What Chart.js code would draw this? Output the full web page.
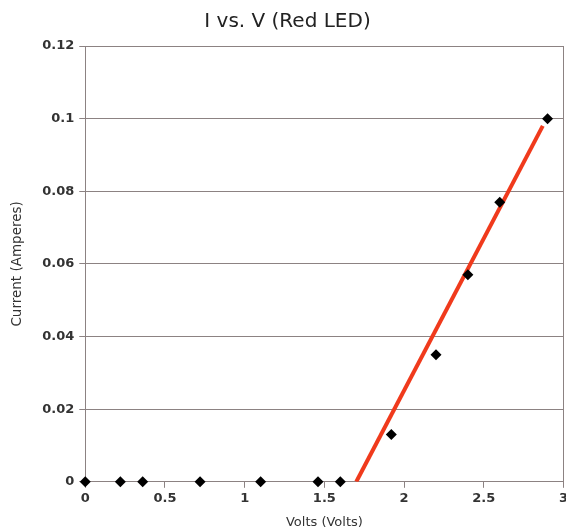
<!DOCTYPE html>
<html>
<head>
<meta charset="utf-8">
<script src="https://cdn.jsdelivr.net/npm/chart.js@4/dist/chart.umd.min.js"></script>
<style>
html,body{margin:0;padding:0;background:#fff;overflow:hidden;}
#wrap{width:569px;height:531px;}
</style>
</head>
<body>
<div id="wrap"><canvas id="c" width="569" height="531"></canvas></div>
<script>
const voltage = [0, 0.22, 0.36, 0.72, 1.1, 1.46, 1.6, 1.92, 2.2, 2.4, 2.6, 2.9];
const current = [0, 0, 0, 0, 0, 0, 0, 0.013, 0.035, 0.057, 0.077, 0.1];
const fitVoltage = [1.70, 2.87];
const fitCurrent = [0, 0.098];
const xTickLabels = ['0', '0.5', '1', '1.5', '2', '2.5', '3'];
const yTickLabels = ['0', '0.02', '0.04', '0.06', '0.08', '0.1', '0.12'];

const FAM = "'DejaVu Sans', Verdana, sans-serif";
const gridColor = '#8c8282';
const tickFont = {family: FAM, size: 13, weight: 'bold'};

// draws the right-hand frame edge of the plot area
const frameRight = {
  id: 'frameRight',
  beforeDatasetsDraw(chart) {
    const {ctx, chartArea} = chart;
    ctx.save();
    ctx.strokeStyle = gridColor;
    ctx.lineWidth = 1;
    ctx.beginPath();
    const x = Math.round(chartArea.right) - 0.5;
    ctx.moveTo(x, chartArea.top);
    ctx.lineTo(x, chartArea.bottom);
    ctx.stroke();
    ctx.restore();
  }
};

new Chart(document.getElementById('c'), {
  type: 'scatter',
  plugins: [frameRight],
  data: {
    datasets: [
      {
        label: 'Measured',
        data: voltage.map((v, i) => ({x: v, y: current[i]})),
        pointStyle: 'rectRot',
        pointRadius: 5.5,
        backgroundColor: '#000',
        borderColor: '#000',
        borderWidth: 0,
        clip: false,
        order: 0
      },
      {
        label: 'Fit',
        data: fitVoltage.map((v, i) => ({x: v, y: fitCurrent[i]})),
        showLine: true,
        borderColor: '#f03a1c',
        borderWidth: 4,
        pointRadius: 0,
        order: 1
      }
    ]
  },
  options: {
    responsive: false,
    animation: false,
    devicePixelRatio: 1,
    layout: {padding: {left: 9, right: 3, top: 0, bottom: 0}},
    plugins: {
      legend: {display: false},
      tooltip: {enabled: false},
      title: {
        display: true,
        text: 'I vs. V (Red LED)',
        color: '#222',
        font: {family: FAM, size: 20, weight: 'normal'},
        padding: {top: 10, bottom: 12}
      }
    },
    scales: {
      x: {
        type: 'linear',
        min: 0, max: 3,
        afterFit: (s) => { s.paddingLeft = 0; s.paddingRight = 0; },
        ticks: {
          stepSize: 0.5,
          color: '#333',
          font: tickFont,
          padding: 3,
          callback: (v, i) => xTickLabels[i]
        },
        grid: {drawOnChartArea: false, drawTicks: true, tickLength: 6, color: gridColor},
        border: {color: gridColor, width: 1},
        title: {
          display: true,
          text: 'Volts (Volts)',
          color: '#333',
          font: {family: FAM, size: 13},
          padding: {top: 5, bottom: 1}
        }
      },
      y: {
        type: 'linear',
        min: 0, max: 0.12,
        ticks: {
          stepSize: 0.02,
          color: '#333',
          font: tickFont,
          padding: 5,
          callback: (v, i) => yTickLabels[i]
        },
        grid: {color: gridColor, tickLength: 6},
        border: {color: gridColor, width: 1},
        title: {
          display: true,
          text: 'Current (Amperes)',
          color: '#333',
          font: {family: FAM, size: 13.5},
          padding: {top: 0, bottom: 12}
        }
      }
    }
  }
});
</script>
</body>
</html>
